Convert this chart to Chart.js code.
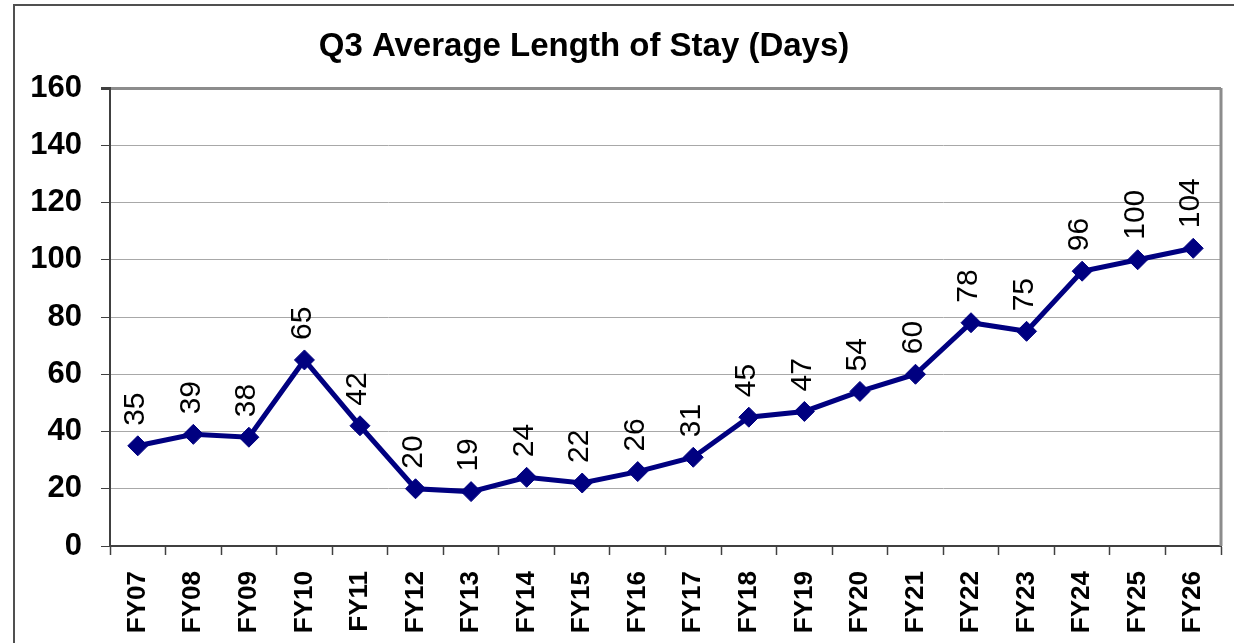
<!DOCTYPE html>
<html>
<head>
<meta charset="utf-8">
<script src="https://cdn.jsdelivr.net/npm/chart.js@4/dist/chart.umd.min.js"></script>
<style>
  html, body { margin: 0; padding: 0; background: #ffffff; overflow: hidden; }
  #wrap { position: relative; width: 1234px; height: 643px; }
  #frame { position: absolute; left: 13px; top: 4px; width: 1400px; height: 800px; border-left: 2px solid #505050; border-top: 2px solid #505050; pointer-events: none; }
  canvas { position: absolute; left: 0; top: 0; }
</style>
</head>
<body>
<div id="wrap">
  <canvas id="c" width="1234" height="643"></canvas>
  <div id="frame"></div>
</div>
<script>
const categories = ['FY07','FY08','FY09','FY10','FY11','FY12','FY13','FY14','FY15','FY16','FY17','FY18','FY19','FY20','FY21','FY22','FY23','FY24','FY25','FY26'];
const losValues = [35, 39, 38, 65, 42, 20, 19, 24, 22, 26, 31, 45, 47, 54, 60, 78, 75, 96, 100, 104];
const yTicks = [0, 20, 40, 60, 80, 100, 120, 140, 160];
const chartTitle = 'Q3 Average Length of Stay (Days)';

const FONT = '"Liberation Sans", Arial, sans-serif';

const titlePlugin = {
  id: 'customTitle',
  afterDraw(chart) {
    const ctx = chart.ctx;
    ctx.save();
    ctx.fillStyle = '#000000';
    ctx.font = 'bold 33px ' + FONT;
    ctx.textAlign = 'center';
    ctx.textBaseline = 'middle';
    ctx.fillText(chartTitle, 584, 47);
    ctx.restore();
  }
};

const dataLabelPlugin = {
  id: 'dataLabels',
  afterDatasetsDraw(chart) {
    const ctx = chart.ctx;
    const meta = chart.getDatasetMeta(0);
    const vals = chart.data.datasets[0].data;
    ctx.save();
    ctx.fillStyle = '#000000';
    ctx.font = 'normal 30px ' + FONT;
    ctx.textAlign = 'left';
    ctx.textBaseline = 'middle';
    meta.data.forEach((pt, i) => {
      ctx.save();
      ctx.translate(pt.x - 2, pt.y - 20);
      ctx.rotate(-Math.PI / 2);
      ctx.fillText(String(vals[i]), 0, 0);
      ctx.restore();
    });
    ctx.restore();
  }
};

const plotBorderPlugin = {
  id: 'plotBorder',
  beforeDatasetsDraw(chart) {
    const a = chart.chartArea;
    const ctx = chart.ctx;
    ctx.save();
    ctx.strokeStyle = '#8c8c8c';
    ctx.lineWidth = 3;
    ctx.beginPath();
    ctx.moveTo(a.right, a.top);
    ctx.lineTo(a.right, a.bottom);
    ctx.stroke();
    ctx.restore();
  }
};

new Chart(document.getElementById('c'), {
  type: 'line',
  data: {
    labels: categories,
    datasets: [{
      data: losValues,
      borderColor: '#000080',
      backgroundColor: '#000080',
      borderWidth: 5,
      pointStyle: 'rectRot',
      pointRadius: 10,
      pointBorderWidth: 1,
      pointBackgroundColor: '#000080',
      pointBorderColor: '#000080',
      tension: 0,
      fill: false
    }]
  },
  options: {
    responsive: false,
    animation: false,
    devicePixelRatio: 1,
    layout: { padding: { left: 0, right: 13, top: 88, bottom: 0 } },
    plugins: {
      legend: { display: false },
      tooltip: { enabled: false },
      title: { display: false }
    },
    scales: {
      x: {
        type: 'category',
        offset: true,
        afterFit(scale) {
          scale.height = 97;
          scale.paddingLeft = 0;
          scale.paddingRight = 0;
        },
        grid: {
          offset: true,
          drawOnChartArea: false,
          drawTicks: true,
          tickLength: 9,
          tickColor: '#404040',
          tickWidth: 1.5
        },
        border: { display: true, color: '#404040', width: 2 },
        ticks: {
          autoSkip: false,
          maxRotation: 90,
          minRotation: 90,
          padding: 16,
          color: '#000000',
          font: { family: FONT, size: 26, weight: 'bold' }
        }
      },
      y: {
        min: yTicks[0],
        max: yTicks[yTicks.length - 1],
        afterFit(scale) { scale.width = 110; },
        afterBuildTicks(scale) { scale.ticks = yTicks.map(v => ({ value: v })); },
        grid: {
          color: (c) => (c.tick && c.tick.value === 160) ? '#8c8c8c' : '#a8a8a8',
          lineWidth: (c) => (c.tick && c.tick.value === 160) ? 3 : 1,
          tickColor: '#404040',
          tickLength: 9,
          drawTicks: true
        },
        border: { display: true, color: '#404040', width: 2 },
        ticks: {
          stepSize: 20,
          padding: 19,
          color: '#000000',
          font: { family: FONT, size: 31, weight: 'bold' }
        }
      }
    }
  },
  plugins: [dataLabelPlugin, plotBorderPlugin, titlePlugin]
});
</script>
</body>
</html>
